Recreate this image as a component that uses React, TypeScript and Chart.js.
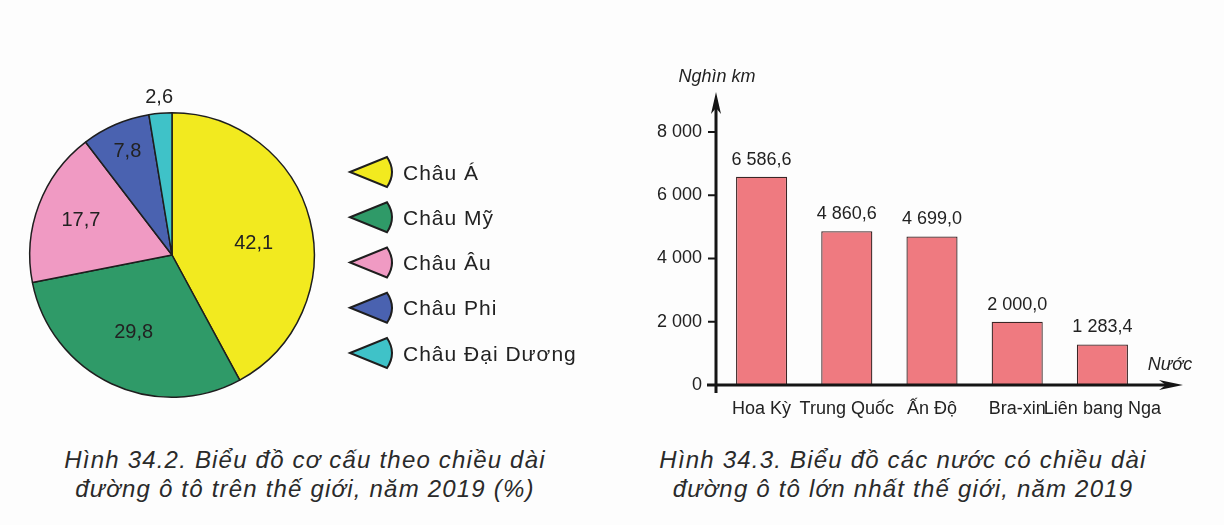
import React, { useEffect, useRef } from 'react';
import { Chart, registerables } from 'chart.js';

Chart.register(...registerables);

// ---------- data ----------
const continents = ['Châu Á', 'Châu Mỹ', 'Châu Âu', 'Châu Phi', 'Châu Đại Dương'];
const shares = [42.1, 29.8, 17.7, 7.8, 2.6];

const countries = ['Hoa Kỳ', 'Trung Quốc', 'Ấn Độ', 'Bra-xin', 'Liên bang Nga'];
const roadLengths = [6586.6, 4860.6, 4699.0, 2000.0, 1283.4];
const yTickValues = [0, 2000, 4000, 6000, 8000];

const pieCaption = ['Hình 34.2. Biểu đồ cơ cấu theo chiều dài', 'đường ô tô trên thế giới, năm 2019 (%)'];
const barCaption = ['Hình 34.3. Biểu đồ các nước có chiều dài', 'đường ô tô lớn nhất thế giới, năm 2019'];
const yAxisTitle = 'Nghìn km';
const xAxisTitle = 'Nước';

// ---------- styles ----------
const FONT = "'Liberation Sans', Arial, Helvetica, sans-serif";
const TEXT = '#222222';
const pieColors = ['#f2ea1f', '#2f9a68', '#f09ac3', '#4a62b0', '#3fc2c8'];
const pieLabelRadius = [0.58, 0.61, 0.685, 0.79, 1.11];
const pieLabelShiftDeg = [6, 1, 0, 0, 0];
const barColor = '#ef7a80';

function viNum(v: number, decimals: number): string {
  const s = Number(v).toFixed(decimals);
  const [intPart, dec] = s.split('.');
  const grouped = intPart.replace(/\B(?=(\d{3})+(?!\d))/g, ' ');
  return dec ? grouped + ',' + dec : grouped;
}

const piePlugin = {
  id: 'pieExtras',
  afterDraw(chart: any) {
    const ctx = chart.ctx as CanvasRenderingContext2D;
    const meta = chart.getDatasetMeta(0);
    ctx.save();
    // slice labels
    ctx.fillStyle = TEXT;
    ctx.font = `20px ${FONT}`;
    ctx.textAlign = 'center';
    ctx.textBaseline = 'middle';
    meta.data.forEach((arc: any, i: number) => {
      const mid = (arc.startAngle + arc.endAngle) / 2 + (pieLabelShiftDeg[i] * Math.PI) / 180;
      const r = arc.outerRadius * pieLabelRadius[i];
      const x = arc.x + Math.cos(mid) * r;
      const y = arc.y + Math.sin(mid) * r;
      ctx.fillText(viNum(shares[i], 1), x, y);
    });
    // legend
    const tipX = 350;
    const y0 = 92;
    const step = 45.25;
    continents.forEach((name, i) => {
      const y = y0 + i * step;
      ctx.beginPath();
      ctx.moveTo(tipX, y);
      ctx.lineTo(tipX + 37, y - 15);
      ctx.quadraticCurveTo(tipX + 47, y, tipX + 37, y + 15);
      ctx.closePath();
      ctx.fillStyle = pieColors[i];
      ctx.fill();
      ctx.lineWidth = 2;
      ctx.lineJoin = 'miter';
      ctx.strokeStyle = '#1e1e1e';
      ctx.stroke();
      ctx.fillStyle = TEXT;
      ctx.font = `21px ${FONT}`;
      (ctx as any).letterSpacing = '1px';
      ctx.textAlign = 'left';
      ctx.textBaseline = 'alphabetic';
      ctx.fillText(name, 403, y + 7.5);
      (ctx as any).letterSpacing = '0px';
    });
    ctx.restore();
  },
};

const barPlugin = {
  id: 'barExtras',
  afterDraw(chart: any) {
    const ctx = chart.ctx as CanvasRenderingContext2D;
    const area = chart.chartArea;
    const yScale = chart.scales.y;
    const axisX = area.left - 3;
    const zeroY = yScale.getPixelForValue(0);
    ctx.save();
    ctx.strokeStyle = '#151515';
    ctx.fillStyle = '#151515';
    ctx.lineWidth = 3;
    // y axis
    const yTip = area.top - 40;
    ctx.beginPath();
    ctx.moveTo(axisX, zeroY + 8);
    ctx.lineTo(axisX, yTip + 10);
    ctx.stroke();
    ctx.beginPath();
    ctx.moveTo(axisX, yTip);
    ctx.lineTo(axisX - 5, yTip + 22);
    ctx.lineTo(axisX, yTip + 16);
    ctx.lineTo(axisX + 5, yTip + 22);
    ctx.closePath();
    ctx.fill();
    // x axis
    const xTip = area.right + 38;
    ctx.beginPath();
    ctx.moveTo(area.left - 12, zeroY);
    ctx.lineTo(xTip - 10, zeroY);
    ctx.stroke();
    ctx.beginPath();
    ctx.moveTo(xTip, zeroY);
    ctx.lineTo(xTip - 24, zeroY - 5);
    ctx.lineTo(xTip - 17, zeroY);
    ctx.lineTo(xTip - 24, zeroY + 5);
    ctx.closePath();
    ctx.fill();
    // y tick marks
    ctx.lineWidth = 2;
    yTickValues.forEach((v) => {
      const py = yScale.getPixelForValue(v);
      if (v === 0) return;
      ctx.beginPath();
      ctx.moveTo(axisX - 8, py);
      ctx.lineTo(axisX, py);
      ctx.stroke();
    });
    // axis titles
    ctx.fillStyle = TEXT;
    ctx.font = `italic 18px ${FONT}`;
    ctx.textAlign = 'center';
    ctx.textBaseline = 'middle';
    ctx.fillText(yAxisTitle, axisX + 1, area.top - 55);
    ctx.fillText(xAxisTitle, area.right + 25, zeroY - 20);
    // value labels
    ctx.font = `18px ${FONT}`;
    const meta = chart.getDatasetMeta(0);
    meta.data.forEach((bar: any, i: number) => {
      ctx.fillText(viNum(roadLengths[i], 1), bar.x, bar.y - 17);
    });
    ctx.restore();
  },
};

export default function App() {
  const pieRef = useRef<HTMLCanvasElement>(null);
  const barRef = useRef<HTMLCanvasElement>(null);

  useEffect(() => {
    const pie = new Chart(pieRef.current as HTMLCanvasElement, {
      type: 'pie',
      data: {
        labels: continents,
        datasets: [
          {
            data: shares,
            backgroundColor: pieColors,
            borderColor: '#1e1e1e',
            borderWidth: 1.5,
          },
        ],
      },
      options: {
        responsive: false,
        animation: false,
        devicePixelRatio: 1,
        layout: { padding: { left: 29, right: 305, top: 32, bottom: 32 } },
        plugins: { legend: { display: false }, tooltip: { enabled: false } },
      },
      plugins: [piePlugin],
    } as any);

    const bar = new Chart(barRef.current as HTMLCanvasElement, {
      type: 'bar',
      data: {
        labels: countries,
        datasets: [
          {
            data: roadLengths,
            backgroundColor: barColor,
            borderColor: '#3b2626',
            borderWidth: 1.3,
            barPercentage: 0.6,
            categoryPercentage: 1,
          },
        ],
      },
      options: {
        responsive: false,
        animation: false,
        devicePixelRatio: 1,
        layout: { padding: { left: 0, right: 79, top: 72, bottom: 0 } },
        scales: {
          x: {
            grid: { display: false, drawTicks: false },
            border: { display: false },
            ticks: {
              padding: 13,
              color: TEXT,
              font: { family: FONT, size: 18 },
              maxRotation: 0,
              autoSkip: false,
            },
            afterFit: (s: any) => {
              s.height = 55;
            },
          },
          y: {
            min: 0,
            max: 8000,
            afterBuildTicks: (s: any) => {
              s.ticks = yTickValues.map((v) => ({ value: v }));
            },
            grid: { display: false, drawTicks: false },
            border: { display: false },
            ticks: {
              padding: 17,
              color: TEXT,
              font: { family: FONT, size: 18 },
              callback: (v: any) => viNum(Number(v), 0),
            },
            afterFit: (s: any) => {
              s.width = 99;
            },
          },
        },
        plugins: { legend: { display: false }, tooltip: { enabled: false } },
      },
      plugins: [barPlugin],
    } as any);

    return () => {
      pie.destroy();
      bar.destroy();
    };
  }, []);

  const captionStyle = (center: number): React.CSSProperties => ({
    position: 'absolute',
    left: center - 320,
    width: 640,
    top: 445,
    textAlign: 'center',
    fontFamily: FONT,
    fontStyle: 'italic',
    fontSize: 24,
    lineHeight: '29px',
    letterSpacing: '1.2px',
    color: '#2a2a2a',
    whiteSpace: 'nowrap',
  });

  return (
    <div
      style={{
        position: 'fixed',
        left: 0,
        top: 0,
        width: 1224,
        height: 525,
        background: '#fdfdfd',
        overflow: 'hidden',
      }}
    >
      <canvas
        ref={pieRef}
        width={620}
        height={350}
        style={{ position: 'absolute', left: 0, top: 80, width: 620, height: 350 }}
      />
      <canvas
        ref={barRef}
        width={604}
        height={380}
        style={{ position: 'absolute', left: 620, top: 60, width: 604, height: 380 }}
      />
      <div style={captionStyle(305)}>
        {pieCaption[0]}
        <br />
        {pieCaption[1]}
      </div>
      <div style={captionStyle(903)}>
        {barCaption[0]}
        <br />
        {barCaption[1]}
      </div>
    </div>
  );
}
